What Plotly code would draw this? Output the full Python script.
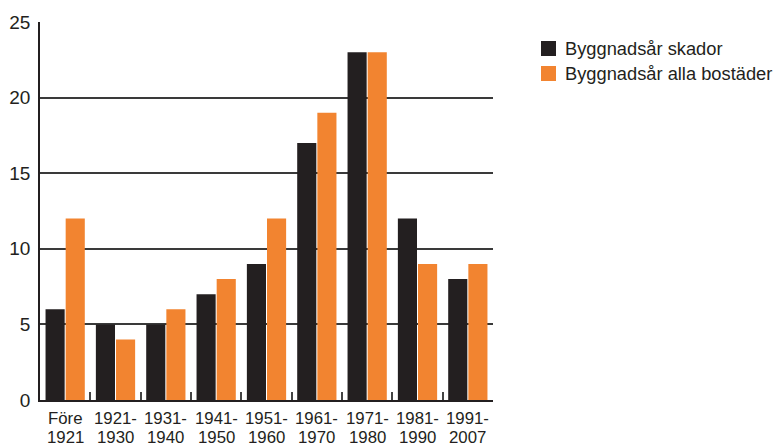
import plotly.graph_objects as go

label_line1 = ["Före", "1921-", "1931-", "1941-", "1951-", "1961-", "1971-", "1981-", "1991-"]
label_line2 = ["1921", "1930", "1940", "1950", "1960", "1970", "1980", "1990", "2007"]
categories = [a + " " + b for a, b in zip(label_line1, label_line2)]
skador = [6, 5, 5, 7, 9, 17, 23, 12, 8]
alla = [12, 4, 6, 8, 12, 19, 23, 9, 9]
y_ticks = [0, 5, 10, 15, 20, 25]
series_names = ["Byggnadsår skador", "Byggnadsår alla bostäder"]
series_colors = ["#231f20", "#f28430"]

W, H = 784, 448
L, R, T, B = 32, 299, 14, 56
pw, ph = W - L - R, H - T - B

def px_x(px):
    return (px - L) / pw

def px_y(py):
    return (H - B - py) / ph

fig = go.Figure()
for name, vals, col in zip(series_names, [skador, alla], series_colors):
    fig.add_trace(go.Bar(x=categories, y=vals, name=name,
                         marker=dict(color=col, line=dict(width=0))))

# x labels, two lines
for cat, l1, l2 in zip(categories, label_line1, label_line2):
    fig.add_annotation(x=cat, y=px_y(410.5), xref="x", yref="paper", text=l1,
                       showarrow=False, xanchor="center", yanchor="middle",
                       font=dict(size=16.8, color="#231f20"))
    fig.add_annotation(x=cat, y=px_y(429), xref="x", yref="paper", text=l2,
                       showarrow=False, xanchor="center", yanchor="middle",
                       font=dict(size=16.8, color="#231f20"))

# manual legend
for i, (name, col) in enumerate(zip(series_names, series_colors)):
    y0 = 33 + i * 25
    fig.add_shape(type="rect", xref="paper", yref="paper",
                  x0=px_x(533), x1=px_x(548), y0=px_y(y0 + 15), y1=px_y(y0),
                  fillcolor=col, line=dict(width=0))
    fig.add_annotation(x=px_x(555), y=px_y(y0 + 7.5), xref="paper", yref="paper",
                       text=name, showarrow=False, xanchor="left", yanchor="middle",
                       font=dict(size=18.3, color="#231f20"))

fig.update_layout(
    width=W, height=H,
    margin=dict(l=L, r=R, t=T, b=B),
    paper_bgcolor="white", plot_bgcolor="white",
    barmode="group", bargap=0.2, bargroupgap=0.05,
    font=dict(family="Liberation Sans, Arial, sans-serif", color="#231f20", size=16),
    showlegend=False,
)
fig.update_xaxes(
    automargin=False, showticklabels=False,
    showline=True, linecolor="#231f20", linewidth=1.5,
    ticks="inside", tickson="boundaries", ticklen=8, tickwidth=1.5, tickcolor="#444",
    showgrid=False,
)
fig.update_yaxes(
    automargin=False,
    range=[0, 25], tickvals=y_ticks, showline=True, linecolor="#231f20", linewidth=1.5,
    showgrid=True, gridcolor="#3a3a3a", gridwidth=1.5, zeroline=False,
    ticks="", tickfont=dict(size=19, color="#231f20"), ticklabelstandoff=4,
)

fig.write_html("out.html")
